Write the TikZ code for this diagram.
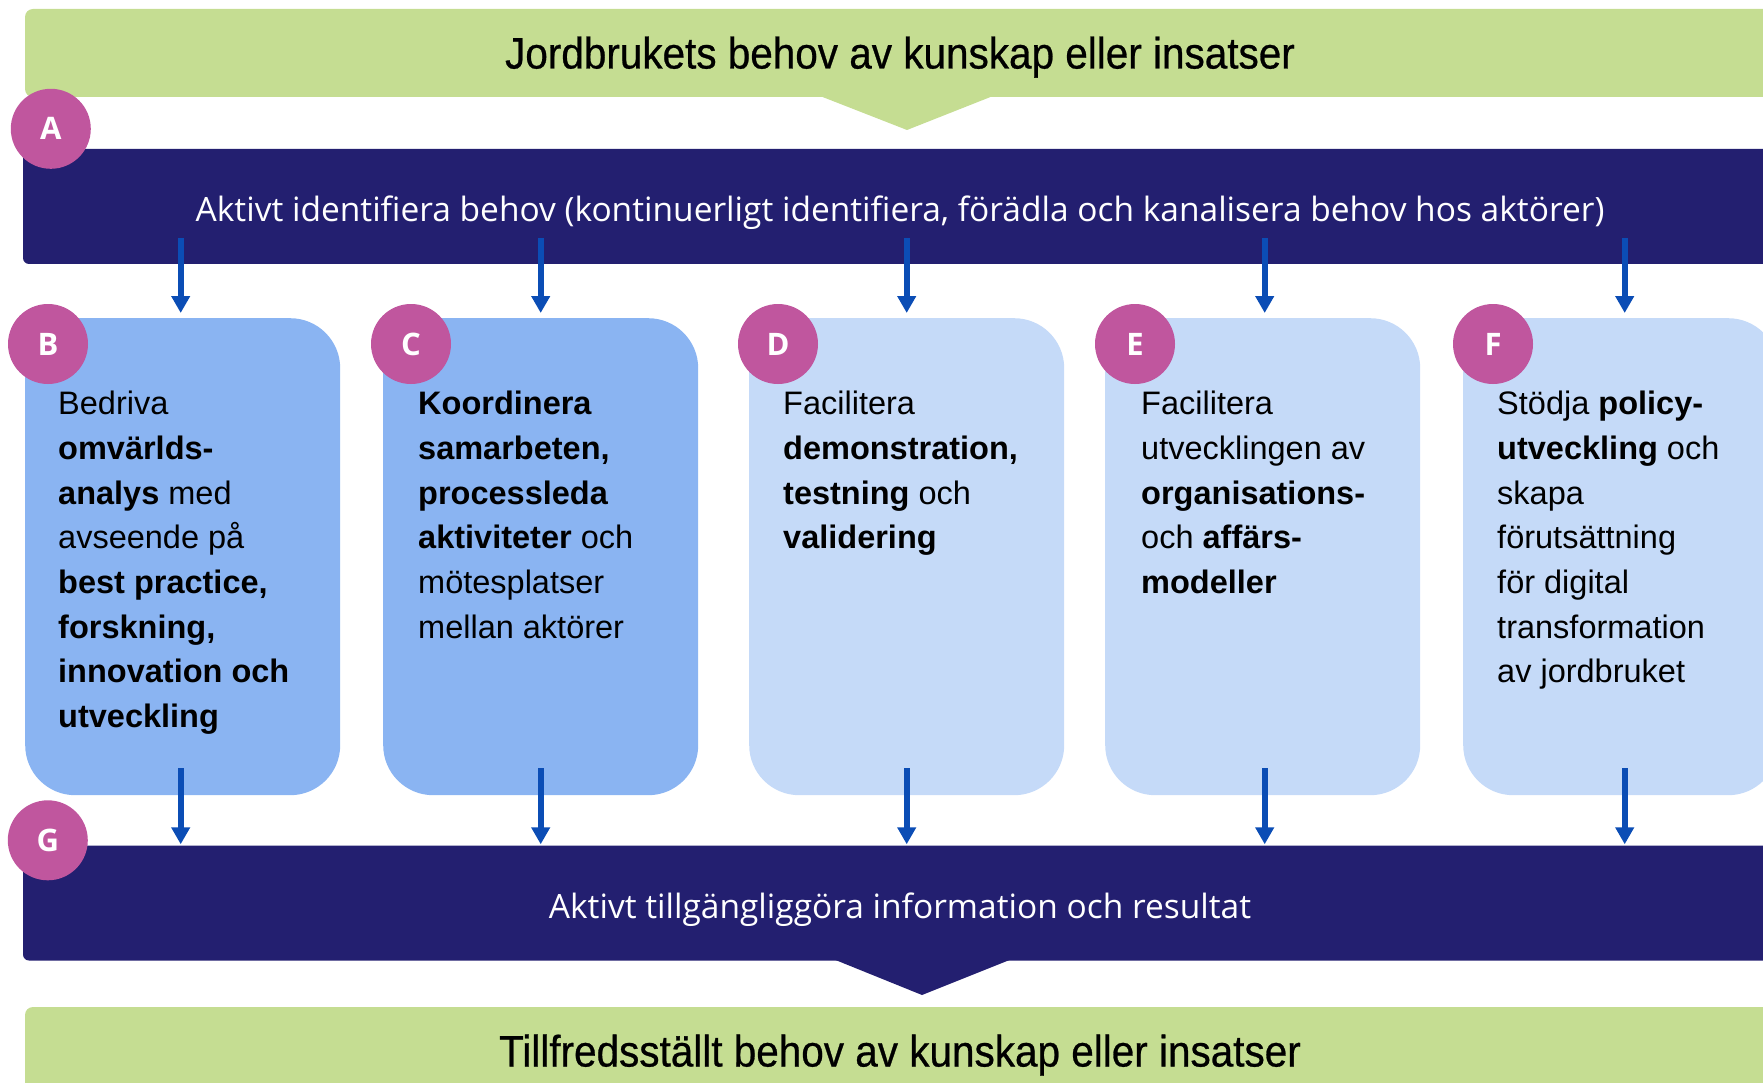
\documentclass[tikz,border=0pt]{standalone}
\usepackage{fontspec}
\setmainfont{Liberation Sans}
\newfontfamily\bandfont{Open Sans}
\newfontfamily\titlefont{Liberation Sans}[FakeBold=0.6,FakeStretch=0.92]
\usetikzlibrary{positioning}
\usetikzlibrary{arrows.meta}

\definecolor{needgreen}{RGB}{197,221,146}
\definecolor{bandnavy}{RGB}{35,31,112}
\definecolor{boxblue}{RGB}{138,180,242}
\definecolor{boxpale}{RGB}{197,218,248}
\definecolor{badgepink}{RGB}{192,86,158}
\definecolor{flowblue}{RGB}{11,77,181}

\tikzset{
	needbar/.style = {
		fill=needgreen,
		rounded corners=8,
		minimum width=1750,
		minimum height=88,
		inner sep=0pt,
		text height=31pt,
		text depth=0pt,
		font=\titlefont\fontsize{44}{50}\selectfont
	},
	band/.style = {
		fill=bandnavy,
		rounded corners=6,
		minimum width=1754,
		minimum height=115,
		inner sep=0pt,
		text height=30pt,
		text depth=0pt,
		text=white,
		font=\bandfont\fontsize{33.5}{40}\selectfont
	},
	taskbox/.style = {
		rounded corners=50,
		minimum width=315,
		minimum height=477,
		anchor=north west,
		inner sep=0pt
	},
	box_dark/.style = {
		taskbox,
		fill=boxblue
	},
	box_pale/.style = {
		taskbox,
		fill=boxpale
	},
	boxtext/.style = {
		align=left,
		anchor=north west,
		inner sep=0pt,
		font=\fontsize{32.5}{44.7}\selectfont
	},
	badge/.style = {
		circle,
		fill=badgepink,
		text=white,
		minimum size=80,
		inner sep=0pt,
		font=\bandfont\bfseries\fontsize{31}{38}\selectfont
	},
	flow/.style = {
		draw=flowblue,
		line width=6,
		-{Triangle[width=18,length=17]}
	}
}

\begin{document}
\begin{tikzpicture}[x=1pt,y=-1pt]
\useasboundingbox (0,0) rectangle (1763,1083);
\clip (0,0) rectangle (1763,1083);

% needs, top and bottom
\node [needbar] (needTop) at (900,53) {Jordbrukets behov av kunskap eller insatser};
\fill [needgreen] (820,96) -- (907,130) -- (993,96) -- cycle;
\node [needbar] (needBot) at (900,1051) {Tillfredsställt behov av kunskap eller insatser};

% the two bands
\node [band] (bandA) at (900,206.5) {Aktivt identifiera behov (kontinuerligt identifiera, förädla och kanalisera behov hos aktörer)};
\node [band] (bandG) at (900,903) {Aktivt tillgängliggöra information och resultat};
\fill [bandnavy] (833,959) -- (922,995) -- (1012,959) -- cycle;

% activity boxes
\node [box_dark] (boxB) at (25,318) {};
\node [box_dark] (boxC) at (383,318) {};
\node [box_pale] (boxD) at (749,318) {};
\node [box_pale] (boxE) at (1105,318) {};
\node [box_pale] (boxF) at (1463,318) {};

\node [boxtext] (txtB) at ([xshift=33,yshift=-73]boxB.north west) {Bedriva\\ \textbf{omvärlds-}\\ \textbf{analys} med\\ avseende på\\ \textbf{best practice,}\\ \textbf{forskning,}\\ \textbf{innovation och}\\ \textbf{utveckling}};
\node [boxtext] (txtC) at ([xshift=35,yshift=-73]boxC.north west) {\textbf{Koordinera}\\ \textbf{samarbeten,}\\ \textbf{processleda}\\ \textbf{aktiviteter} och\\ mötesplatser\\ mellan aktörer};
\node [boxtext] (txtD) at ([xshift=34,yshift=-73]boxD.north west) {Facilitera\\ \textbf{demonstration,}\\ \textbf{testning} och\\ \textbf{validering}};
\node [boxtext] (txtE) at ([xshift=36,yshift=-73]boxE.north west) {Facilitera\\ utvecklingen av\\ \textbf{organisations-}\\ och \textbf{affärs-}\\ \textbf{modeller}};
\node [boxtext] (txtF) at ([xshift=34,yshift=-73]boxF.north west) {Stödja \textbf{policy-}\\ \textbf{utveckling} och\\ skapa\\ förutsättning\\ för digital\\ transformation\\ av jordbruket};

% letters
\node [badge] (cA) at ([xshift=28,yshift=20]bandA.north west) {A};
\node [badge] (cB) at ([xshift=23,yshift=-26]boxB.north west) {B};
\node [badge] (cC) at ([xshift=28,yshift=-26]boxC.north west) {C};
\node [badge] (cD) at ([xshift=29,yshift=-26]boxD.north west) {D};
\node [badge] (cE) at ([xshift=30,yshift=-26]boxE.north west) {E};
\node [badge] (cF) at ([xshift=30,yshift=-26]boxF.north west) {F};
\node [badge] (cG) at ([xshift=25,yshift=5]bandG.north west) {G};

% flows in and out of the boxes
\foreach \b/\dx in {boxB/-2,boxC/0,boxD/0,boxE/2,boxF/4} {
	\draw [flow] ([xshift=\dx,yshift=26]bandA.south -| \b.north) -- ([xshift=\dx,yshift=5]\b.north);
	\draw [flow] ([xshift=\dx,yshift=27]\b.south) -- ([xshift=\dx,yshift=1]bandG.north -| \b.south);
}
\end{tikzpicture}
\end{document}
